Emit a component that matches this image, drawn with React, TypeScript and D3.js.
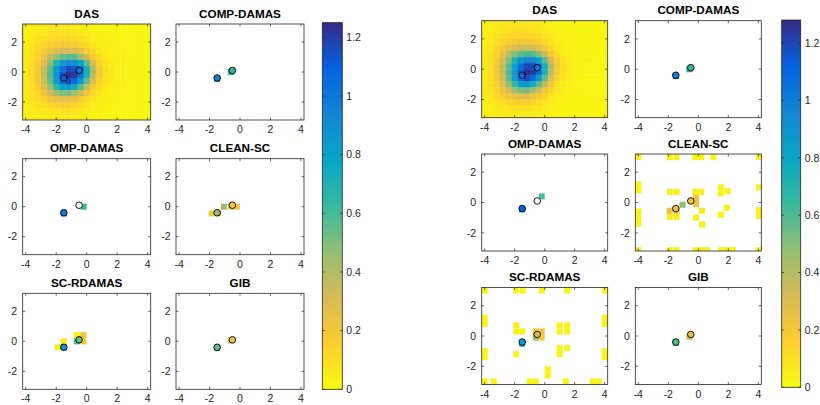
import React from 'react';
import * as d3 from 'd3';

// axis ticks
const xTicks = [-4, -2, 0, 2, 4];
const yTicks = [-2, 0, 2];
const cbTicks = [0, 0.2, 0.4, 0.6, 0.8, 1, 1.2];

// DAS grid (cell centres)
const gridX = [-4, -3.6, -3.2, -2.8, -2.4, -2, -1.6, -1.2, -0.8, -0.4, 0, 0.4, 0.8, 1.2, 1.6, 2, 2.4, 2.8, 3.2, 3.6, 4];
const gridY = [3, 2.6, 2.2, 1.8, 1.4, 1, 0.6, 0.2, -0.2, -0.6, -1, -1.4, -1.8, -2.2, -2.6, -3];

const dasLeft = [
  [0.04, 0.05, 0.05, 0.06, 0.07, 0.07, 0.07, 0.07, 0.06, 0.05, 0.04, 0.03, 0.03, 0.02, 0.02, 0.02, 0.02, 0.02, 0.02, 0.02, 0.02],
  [0.04, 0.05, 0.06, 0.07, 0.08, 0.09, 0.09, 0.09, 0.08, 0.07, 0.05, 0.04, 0.03, 0.03, 0.02, 0.02, 0.02, 0.02, 0.02, 0.02, 0.02],
  [0.05, 0.06, 0.08, 0.1, 0.11, 0.12, 0.13, 0.13, 0.12, 0.1, 0.08, 0.05, 0.04, 0.03, 0.03, 0.02, 0.02, 0.02, 0.02, 0.02, 0.02],
  [0.05, 0.07, 0.1, 0.13, 0.16, 0.18, 0.19, 0.19, 0.18, 0.15, 0.11, 0.07, 0.05, 0.04, 0.03, 0.03, 0.02, 0.02, 0.02, 0.02, 0.02],
  [0.06, 0.08, 0.12, 0.18, 0.24, 0.29, 0.32, 0.33, 0.31, 0.26, 0.18, 0.11, 0.07, 0.05, 0.04, 0.03, 0.03, 0.02, 0.02, 0.02, 0.02],
  [0.06, 0.09, 0.15, 0.24, 0.36, 0.47, 0.55, 0.58, 0.56, 0.47, 0.32, 0.18, 0.1, 0.06, 0.04, 0.03, 0.03, 0.02, 0.02, 0.02, 0.02],
  [0.07, 0.1, 0.17, 0.3, 0.48, 0.68, 0.84, 0.92, 0.9, 0.78, 0.55, 0.3, 0.15, 0.08, 0.05, 0.04, 0.03, 0.03, 0.02, 0.02, 0.02],
  [0.07, 0.11, 0.19, 0.34, 0.56, 0.82, 1.04, 1.16, 1.14, 1.0, 0.72, 0.4, 0.19, 0.1, 0.06, 0.04, 0.03, 0.03, 0.02, 0.02, 0.02],
  [0.07, 0.11, 0.2, 0.35, 0.58, 0.86, 1.1, 1.25, 1.2, 1.02, 0.7, 0.38, 0.18, 0.09, 0.06, 0.04, 0.03, 0.03, 0.02, 0.02, 0.02],
  [0.07, 0.11, 0.19, 0.33, 0.55, 0.82, 1.05, 1.16, 1.06, 0.84, 0.55, 0.29, 0.14, 0.08, 0.05, 0.04, 0.03, 0.02, 0.02, 0.02, 0.02],
  [0.07, 0.1, 0.17, 0.28, 0.45, 0.65, 0.8, 0.84, 0.74, 0.56, 0.35, 0.19, 0.1, 0.06, 0.04, 0.03, 0.03, 0.02, 0.02, 0.02, 0.02],
  [0.06, 0.09, 0.14, 0.21, 0.32, 0.43, 0.5, 0.51, 0.44, 0.33, 0.21, 0.12, 0.07, 0.05, 0.03, 0.03, 0.02, 0.02, 0.02, 0.02, 0.02],
  [0.06, 0.08, 0.11, 0.15, 0.2, 0.25, 0.27, 0.27, 0.24, 0.18, 0.12, 0.08, 0.05, 0.04, 0.03, 0.02, 0.02, 0.02, 0.02, 0.02, 0.02],
  [0.05, 0.06, 0.08, 0.1, 0.13, 0.15, 0.16, 0.15, 0.13, 0.11, 0.08, 0.05, 0.04, 0.03, 0.02, 0.02, 0.02, 0.02, 0.02, 0.02, 0.02],
  [0.04, 0.05, 0.06, 0.07, 0.08, 0.09, 0.09, 0.09, 0.08, 0.07, 0.05, 0.04, 0.03, 0.02, 0.02, 0.02, 0.02, 0.02, 0.02, 0.02, 0.02],
  [0.03, 0.04, 0.05, 0.05, 0.06, 0.06, 0.06, 0.06, 0.05, 0.05, 0.04, 0.03, 0.03, 0.02, 0.02, 0.02, 0.02, 0.02, 0.02, 0.02, 0.02],
];

const dasRight = [
  [0.04, 0.05, 0.06, 0.06, 0.07, 0.08, 0.08, 0.08, 0.07, 0.06, 0.05, 0.04, 0.03, 0.03, 0.02, 0.02, 0.02, 0.02, 0.02, 0.02, 0.02],
  [0.05, 0.05, 0.06, 0.08, 0.09, 0.1, 0.1, 0.1, 0.09, 0.08, 0.06, 0.04, 0.03, 0.03, 0.02, 0.02, 0.02, 0.02, 0.02, 0.02, 0.02],
  [0.05, 0.06, 0.08, 0.1, 0.12, 0.13, 0.14, 0.14, 0.13, 0.11, 0.08, 0.06, 0.04, 0.03, 0.03, 0.02, 0.02, 0.02, 0.02, 0.02, 0.02],
  [0.05, 0.07, 0.1, 0.14, 0.17, 0.2, 0.21, 0.21, 0.2, 0.17, 0.12, 0.08, 0.05, 0.04, 0.03, 0.03, 0.02, 0.02, 0.02, 0.02, 0.02],
  [0.06, 0.08, 0.13, 0.19, 0.26, 0.31, 0.34, 0.35, 0.33, 0.28, 0.2, 0.12, 0.07, 0.05, 0.04, 0.03, 0.03, 0.02, 0.02, 0.02, 0.02],
  [0.06, 0.09, 0.15, 0.25, 0.38, 0.5, 0.58, 0.62, 0.6, 0.5, 0.35, 0.2, 0.11, 0.06, 0.04, 0.03, 0.03, 0.02, 0.02, 0.02, 0.02],
  [0.07, 0.1, 0.18, 0.31, 0.5, 0.71, 0.88, 0.96, 0.95, 0.82, 0.58, 0.32, 0.16, 0.08, 0.05, 0.04, 0.03, 0.03, 0.02, 0.02, 0.02],
  [0.07, 0.11, 0.2, 0.35, 0.58, 0.85, 1.07, 1.2, 1.18, 1.04, 0.75, 0.42, 0.2, 0.1, 0.06, 0.04, 0.03, 0.03, 0.02, 0.02, 0.02],
  [0.07, 0.11, 0.2, 0.36, 0.6, 0.89, 1.13, 1.28, 1.23, 1.05, 0.73, 0.4, 0.19, 0.09, 0.06, 0.04, 0.03, 0.03, 0.02, 0.02, 0.02],
  [0.07, 0.11, 0.19, 0.34, 0.57, 0.85, 1.08, 1.19, 1.09, 0.87, 0.57, 0.3, 0.15, 0.08, 0.05, 0.04, 0.03, 0.02, 0.02, 0.02, 0.02],
  [0.07, 0.1, 0.17, 0.29, 0.47, 0.67, 0.83, 0.87, 0.77, 0.58, 0.37, 0.2, 0.1, 0.06, 0.04, 0.03, 0.03, 0.02, 0.02, 0.02, 0.02],
  [0.06, 0.09, 0.14, 0.22, 0.33, 0.45, 0.52, 0.53, 0.46, 0.35, 0.22, 0.13, 0.07, 0.05, 0.03, 0.03, 0.02, 0.02, 0.02, 0.02, 0.02],
  [0.06, 0.08, 0.11, 0.16, 0.21, 0.26, 0.28, 0.28, 0.25, 0.19, 0.13, 0.08, 0.05, 0.04, 0.03, 0.02, 0.02, 0.02, 0.02, 0.02, 0.02],
  [0.05, 0.06, 0.08, 0.1, 0.13, 0.15, 0.16, 0.16, 0.14, 0.11, 0.08, 0.05, 0.04, 0.03, 0.02, 0.02, 0.02, 0.02, 0.02, 0.02, 0.02],
  [0.04, 0.05, 0.06, 0.07, 0.08, 0.09, 0.1, 0.09, 0.08, 0.07, 0.05, 0.04, 0.03, 0.02, 0.02, 0.02, 0.02, 0.02, 0.02, 0.02, 0.02],
  [0.03, 0.04, 0.05, 0.05, 0.06, 0.06, 0.06, 0.06, 0.05, 0.05, 0.04, 0.03, 0.03, 0.02, 0.02, 0.02, 0.02, 0.02, 0.02, 0.02, 0.02],
];

// true source positions
const sources = [[-1.5, -0.4], [-0.5, 0.1]];

// sparse maps, [x centre, y centre, value]
const compDamasL = [[-1.5, -0.45, 0.95], [-0.6, 0.0, 0.68]];
const ompDamasL = [[-1.5, -0.45, 1.0], [-0.2, 0.0, 0.62]];
const cleanScL = [[-1.85, -0.45, 0.2], [-1.45, -0.45, 0.22], [-1.05, 0.0, 0.45], [-0.6, 0.0, 0.2], [-0.2, 0.0, 0.2]];
const scRdamasL = [[-1.9, -0.4, 0.04], [-1.5, 0.0, 0.05], [-1.5, -0.4, 0.85], [-0.65, 0.42, 0.05], [-0.22, 0.42, 0.2], [-0.22, 0.0, 0.2], [-0.65, 0.0, 0.6]];
const gibL = [[-1.5, -0.45, 0.55], [-0.6, 0.05, 0.25]];

const compDamasR = [[-1.5, -0.45, 0.98], [-0.6, 0.0, 0.7]];
const ompDamasR = [[-1.5, -0.45, 1.0], [-0.2, 0.4, 0.62]];
const cleanScR = [
  [-4.0, 3.0, 0.03], [-1.9, 3.0, 0.04], [-1.45, 3.0, 0.04], [-0.2, 3.0, 0.03], [0.2, 3.0, 0.03], [1.0, 3.0, 0.03], [4.05, 3.0, 0.03],
  [-4.0, 1.2, 0.03], [-4.0, 0.8, 0.03], [-1.9, 0.7, 0.04], [-1.45, 0.7, 0.04], [-0.2, 0.7, 0.05], [0.2, 0.7, 0.05],
  [1.5, 1.0, 0.03], [1.5, 0.6, 0.03], [1.95, 0.75, 0.03], [4.05, 1.0, 0.03],
  [-0.15, 0.3, 0.22], [-0.15, -0.1, 0.22], [-1.05, -0.15, 0.48],
  [-1.9, -0.55, 0.25], [-1.45, -0.55, 0.25], [-1.9, -0.95, 0.05], [-1.45, -0.95, 0.05],
  [0.25, -0.55, 0.04], [-0.15, -1.0, 0.04], [0.25, -1.45, 0.04],
  [-4.0, -0.6, 0.03], [-4.0, -1.0, 0.03], [-4.0, -1.4, 0.03], [1.9, -0.35, 0.03], [1.5, -0.8, 0.03],
  [4.05, -0.5, 0.03], [4.05, -0.9, 0.03],
  [-4.0, -3.15, 0.03], [-1.9, -3.15, 0.04], [-1.45, -3.15, 0.04], [-0.2, -3.15, 0.04], [0.2, -3.15, 0.04], [0.6, -3.15, 0.04],
  [1.5, -3.15, 0.03], [1.9, -3.15, 0.03], [2.3, -3.15, 0.03], [4.05, -3.15, 0.03],
];
const scRdamasR = [
  [-4.0, 3.0, 0.03], [-1.9, 3.0, 0.03], [-1.45, 3.0, 0.03], [-0.2, 3.0, 0.03], [1.5, 3.0, 0.03], [4.0, 3.0, 0.03],
  [-4.0, 1.2, 0.03], [-4.0, 0.8, 0.03], [-1.9, 0.7, 0.04], [-1.9, 0.3, 0.04], [-1.5, 0.3, 0.04],
  [-0.6, 0.3, 0.2], [-0.2, 0.3, 0.24], [-0.6, -0.1, 0.45], [-0.2, -0.1, 0.2], [-1.5, -0.5, 0.85],
  [1.0, 0.7, 0.03], [1.5, 0.7, 0.03], [1.0, 0.3, 0.03], [1.5, 0.3, 0.03], [4.0, 1.2, 0.03], [4.0, 0.8, 0.03],
  [-4.0, -1.0, 0.03], [-4.0, -1.4, 0.03], [-1.9, -1.2, 0.03], [1.0, -0.8, 0.03], [1.5, -0.8, 0.03], [1.0, -1.2, 0.03],
  [4.0, -1.0, 0.03], [4.0, -1.4, 0.03], [0.2, -2.2, 0.03], [0.2, -2.6, 0.03],
  [-4.0, -3.0, 0.03], [-3.4, -3.0, 0.03], [-1.0, -3.0, 0.03], [-0.6, -3.0, 0.03], [1.4, -3.0, 0.03], [3.2, -3.0, 0.03], [3.6, -3.0, 0.03],
];
const gibR = [[-1.5, -0.45, 0.6], [-0.6, -0.05, 0.3]];

// circle fills at the two sources (null = hollow, 0 = white)
const fillCompL = [0.95, 0.65];
const fillOmpL = [1.0, 0];
const fillCleanL = [0.45, 0.2];
const fillScL = [0.85, 0.55];
const fillGibL = [0.55, 0.22];
const fillCompR = [0.98, 0.65];
const fillOmpR = [1.1, 0];
const fillCleanR = [0.25, 0.22];
const fillScR = [0.85, 0.3];
const fillGibR = [0.6, 0.25];

// parula, sampled (low -> high)
const parula = ['#352a87', '#0363e1', '#1485d4', '#06a7c6', '#38b99e', '#92bf73', '#d9ba56', '#fcce2e', '#f9fb0e'];

const FONT = '"Liberation Sans", Arial, Helvetica, sans-serif';
const INK = '#262626';

function colorScale(cmax) {
  const n = parula.length;
  return d3.scaleLinear()
    .domain(parula.map((_, i) => (i / (n - 1)) * cmax))
    .range(parula.slice().reverse())
    .interpolate(d3.interpolateRgb)
    .clamp(true);
}

function Panel({ id, x, y, w, h, title, grid, cells, fills, cmax }) {
  const sx = d3.scaleLinear().domain([-4.2, 4.2]).range([0, w]);
  const sy = d3.scaleLinear().domain([-3.2, 3.2]).range([h, 0]);
  const color = colorScale(cmax);
  const cw = sx(0.4) - sx(0);
  const ch = sy(0) - sy(0.4);
  const tl = 2.5;

  return (
    <g transform={`translate(${x},${y})`}>
      <defs>
        <clipPath id={id}>
          <rect x={0} y={0} width={w} height={h} />
        </clipPath>
      </defs>
      <rect x={0} y={0} width={w} height={h} fill="#fff" />
      <g clipPath={`url(#${id})`}>
        {grid && grid.map((row, ri) =>
          row.map((v, ci) => (
            <rect key={`${ri}-${ci}`}
              x={sx(gridX[ci]) - cw / 2} y={sy(gridY[ri]) - ch / 2}
              width={cw + 0.4} height={ch + 0.4} fill={color(v)} />
          )))}
        {cells && cells.map((c, i) => (
          <rect key={i} x={sx(c[0]) - cw / 2} y={sy(c[1]) - ch / 2}
            width={cw} height={ch} fill={color(c[2])} />
        ))}
      </g>
      {sources.map((s, i) => {
        const f = fills ? fills[i] : null;
        const fill = f === null || f === undefined ? 'none' : f === 0 ? '#fff' : color(f);
        return <circle key={i} cx={sx(s[0])} cy={sy(s[1])} r={3.3} fill={fill} stroke="#000" strokeWidth={0.9} />;
      })}
      <rect x={0} y={0} width={w} height={h} fill="none" stroke={INK} strokeWidth={0.8} />
      {xTicks.map(t => (
        <g key={'x' + t}>
          <line x1={sx(t)} x2={sx(t)} y1={h} y2={h - tl} stroke={INK} strokeWidth={0.7} />
          <line x1={sx(t)} x2={sx(t)} y1={0} y2={tl} stroke={INK} strokeWidth={0.7} />
          <text x={sx(t)} y={h + 13} textAnchor="middle" fontSize={10.5} fill={INK} fontFamily={FONT}>{t}</text>
        </g>
      ))}
      {yTicks.map(t => (
        <g key={'y' + t}>
          <line x1={0} x2={tl} y1={sy(t)} y2={sy(t)} stroke={INK} strokeWidth={0.7} />
          <line x1={w} x2={w - tl} y1={sy(t)} y2={sy(t)} stroke={INK} strokeWidth={0.7} />
          <text x={-5.5} y={sy(t)} dy="0.36em" textAnchor="end" fontSize={10.5} fill={INK} fontFamily={FONT}>{t}</text>
        </g>
      ))}
      <text x={w / 2} y={-6.5} textAnchor="middle" fontSize={11.7} fontWeight="bold" fill="#000" fontFamily={FONT}>{title}</text>
    </g>
  );
}

function Colorbar({ id, x, y, w, h, cmax }) {
  const s = d3.scaleLinear().domain([0, cmax]).range([h, 0]);
  const n = parula.length;
  return (
    <g transform={`translate(${x},${y})`}>
      <defs>
        <linearGradient id={id} x1="0" y1="1" x2="0" y2="0">
          {parula.slice().reverse().map((c, i) => (
            <stop key={i} offset={`${(i / (n - 1)) * 100}%`} stopColor={c} />
          ))}
        </linearGradient>
      </defs>
      <rect x={0} y={0} width={w} height={h} fill={`url(#${id})`} stroke={INK} strokeWidth={0.8} />
      {cbTicks.map(t => (
        <g key={t}>
          <line x1={w} x2={w - 2.5} y1={s(t)} y2={s(t)} stroke={INK} strokeWidth={0.7} />
          <line x1={0} x2={2.5} y1={s(t)} y2={s(t)} stroke={INK} strokeWidth={0.7} />
          <text x={w + 4} y={s(t)} dy="0.36em" fontSize={10.5} fill={INK} fontFamily={FONT}>{t}</text>
        </g>
      ))}
    </g>
  );
}

export default function App() {
  const L = { cols: [22.7, 176], rows: [24, 158.7, 293.3], w: 128, h: 96, cmax: 1.25 };
  const R = { cols: [481.7, 635.3], rows: [20.7, 154, 287.5], w: 126, h: 97, cmax: 1.28 };

  const leftPanels = [
    { title: 'DAS', grid: dasLeft, fills: [null, null] },
    { title: 'COMP-DAMAS', cells: compDamasL, fills: fillCompL },
    { title: 'OMP-DAMAS', cells: ompDamasL, fills: fillOmpL },
    { title: 'CLEAN-SC', cells: cleanScL, fills: fillCleanL },
    { title: 'SC-RDAMAS', cells: scRdamasL, fills: fillScL },
    { title: 'GIB', cells: gibL, fills: fillGibL },
  ];
  const rightPanels = [
    { title: 'DAS', grid: dasRight, fills: [null, null] },
    { title: 'COMP-DAMAS', cells: compDamasR, fills: fillCompR },
    { title: 'OMP-DAMAS', cells: ompDamasR, fills: fillOmpR },
    { title: 'CLEAN-SC', cells: cleanScR, fills: fillCleanR },
    { title: 'SC-RDAMAS', cells: scRdamasR, fills: fillScR },
    { title: 'GIB', cells: gibR, fills: fillGibR },
  ];

  return (
    <svg width={820} height={405} style={{ position: 'absolute', left: 0, top: 0, background: '#fff' }}>
      {leftPanels.map((p, i) => (
        <Panel key={'L' + i} id={'clipL' + i} x={L.cols[i % 2]} y={L.rows[Math.floor(i / 2)]}
          w={L.w} h={L.h} cmax={L.cmax} {...p} />
      ))}
      <Colorbar id="cbL" x={322.3} y={22.7} w={20} h={366.6} cmax={L.cmax} />
      {rightPanels.map((p, i) => (
        <Panel key={'R' + i} id={'clipR' + i} x={R.cols[i % 2]} y={R.rows[Math.floor(i / 2)]}
          w={R.w} h={R.h} cmax={R.cmax} {...p} />
      ))}
      <Colorbar id="cbR" x={781.7} y={20} w={19} h={367.3} cmax={R.cmax} />
    </svg>
  );
}
